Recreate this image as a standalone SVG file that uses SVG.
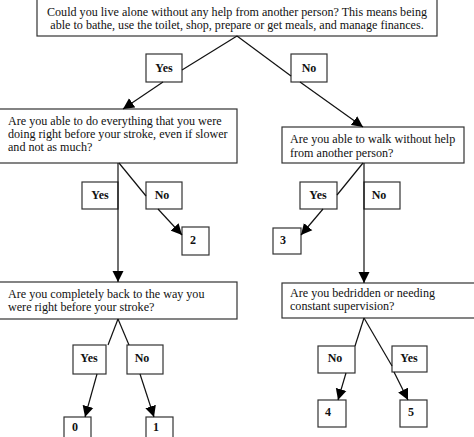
<svg xmlns="http://www.w3.org/2000/svg" width="474" height="437" viewBox="0 0 474 437">
<style>
.b{fill:#fff;stroke:#333;stroke-width:1.2}
.q{font-family:"Liberation Serif","Times New Roman",serif;font-size:12.1px;fill:#111}
.l{font-family:"Liberation Serif","Times New Roman",serif;font-size:12px;font-weight:bold;fill:#111;text-anchor:middle}
.c line{stroke:#111;stroke-width:1.2}
</style>
<defs>
<marker id="a" markerUnits="userSpaceOnUse" markerWidth="12" markerHeight="12" viewBox="0 0 12 12" refX="11" refY="6" orient="auto">
<path d="M0,0.5 L11,6 L0,11.5 Z" fill="#000"/>
</marker>
</defs>
<g id="q1"><rect class="b" x="37" y="-1" width="400" height="37"/>
<text class="q" x="237" y="16" text-anchor="middle">Could you live alone without any help from another person? This means being</text>
<text class="q" x="237" y="29" text-anchor="middle">able to bathe, use the toilet, shop, prepare or get meals, and manage finances.</text></g>
<g id="q2"><rect class="b" x="-1" y="109" width="238" height="54"/>
<text class="q" x="8" y="125">Are you able to do everything that you were</text>
<text class="q" x="8" y="138">doing right before your stroke, even if slower</text>
<text class="q" x="8" y="151">and not as much?</text></g>
<g id="q3"><rect class="b" x="282" y="127" width="182" height="36"/>
<text class="q" x="290" y="143">Are you able to walk without help</text>
<text class="q" x="290" y="157">from another person?</text></g>
<g id="q4"><rect class="b" x="-1" y="282" width="238" height="37"/>
<text class="q" x="8" y="298">Are you completely back to the way you</text>
<text class="q" x="8" y="311">were right before your stroke?</text></g>
<g id="q5"><rect class="b" x="282" y="283" width="193" height="35"/>
<text class="q" x="290" y="297">Are you bedridden or needing</text>
<text class="q" x="290" y="310">constant supervision?</text></g>
<g id="l1"><rect class="b" x="146" y="54" width="36" height="28"/><text class="l" x="164" y="72">Yes</text></g>
<g id="l2"><rect class="b" x="291" y="54" width="36" height="28"/><text class="l" x="309" y="72">No</text></g>
<g id="l3"><rect class="b" x="82" y="182" width="36" height="27"/><text class="l" x="100" y="199">Yes</text></g>
<g id="l4"><rect class="b" x="146" y="182" width="36" height="27"/><text class="l" x="162" y="199">No</text></g>
<g id="l5"><rect class="b" x="300" y="182" width="37" height="27"/><text class="l" x="318" y="199">Yes</text></g>
<g id="l6"><rect class="b" x="364" y="182" width="36" height="27"/><text class="l" x="379" y="199">No</text></g>
<g id="l7"><rect class="b" x="73" y="345" width="33" height="29"/><text class="l" x="89" y="362">Yes</text></g>
<g id="l8"><rect class="b" x="127" y="345" width="36" height="29"/><text class="l" x="142" y="362">No</text></g>
<g id="l9"><rect class="b" x="318" y="346" width="37" height="27"/><text class="l" x="335" y="362">No</text></g>
<g id="l10"><rect class="b" x="392" y="346" width="35" height="26"/><text class="l" x="409" y="362">Yes</text></g>
<g id="r2"><rect class="b" x="182" y="227" width="27" height="28"/><text class="l" x="193" y="244">2</text></g>
<g id="r3"><rect class="b" x="273" y="228" width="28" height="26"/><text class="l" x="283" y="244">3</text></g>
<g id="r0"><rect class="b" x="64" y="417" width="27" height="25"/><text class="l" x="75" y="431">0</text></g>
<g id="r1"><rect class="b" x="146" y="417" width="27" height="25"/><text class="l" x="156" y="431">1</text></g>
<g id="r4"><rect class="b" x="318" y="400" width="28" height="27"/><text class="l" x="328" y="416">4</text></g>
<g id="r5"><rect class="b" x="400" y="400" width="27" height="27"/><text class="l" x="411" y="416">5</text></g>
<g id="connectors" class="c">
<line x1="237" y1="36" x2="182" y2="70"/>
<line x1="163" y1="82" x2="123" y2="109" marker-end="url(#a)"/>
<line x1="237" y1="36" x2="291" y2="76"/>
<line x1="300" y1="82" x2="363" y2="127" marker-end="url(#a)"/>
<line x1="118" y1="163" x2="118" y2="282" marker-end="url(#a)"/>
<line x1="119" y1="163" x2="146" y2="196"/>
<line x1="158" y1="209" x2="182" y2="235" marker-end="url(#a)"/>
<line x1="364" y1="163" x2="364" y2="283" marker-end="url(#a)"/>
<line x1="363" y1="163" x2="337" y2="195"/>
<line x1="323" y1="209" x2="301" y2="235" marker-end="url(#a)"/>
<line x1="118" y1="319" x2="108" y2="345"/>
<line x1="118" y1="319" x2="129" y2="345"/>
<line x1="97" y1="374" x2="85" y2="417" marker-end="url(#a)"/>
<line x1="140" y1="374" x2="154" y2="417" marker-end="url(#a)"/>
<line x1="364" y1="318" x2="355" y2="346"/>
<line x1="364" y1="318" x2="392" y2="366"/>
<line x1="346" y1="373" x2="338" y2="400" marker-end="url(#a)"/>
<line x1="394" y1="372" x2="408" y2="400" marker-end="url(#a)"/>
</g>
</svg>
